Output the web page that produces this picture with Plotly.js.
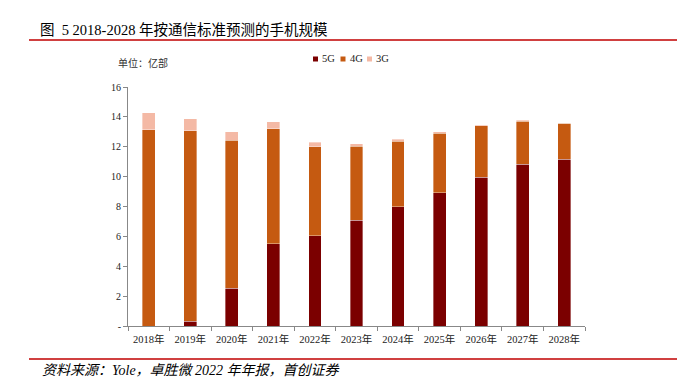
<!DOCTYPE html>
<html>
<head>
<meta charset="utf-8">
<script src="https://cdn.plot.ly/plotly-3.0.1.min.js"></script>
<style>html,body{margin:0;padding:0;background:#fff;}#chart{width:677px;height:385px;}</style>
</head>
<body>
<div id="chart"></div>
<script>
const years = ['2018年','2019年','2020年','2021年','2022年','2023年','2024年','2025年','2026年','2027年','2028年'];
const seriesNames = ['5G', '4G', '3G'];
const g5 = [0, 0.33, 2.52, 5.5, 6.04, 7.07, 7.97, 8.92, 9.97, 10.82, 11.16];
const g4 = [13.15, 12.75, 9.91, 7.71, 5.95, 4.96, 4.40, 4.00, 3.45, 2.90, 2.41];
const g3 = [1.11, 0.78, 0.56, 0.45, 0.31, 0.18, 0.13, 0.09, 0.06, 0.05, 0.02];
const yTickVals = [0, 2, 4, 6, 8, 10, 12, 14, 16];
const yTickText = ['-', '2', '4', '6', '8', '10', '12', '14', '16'];

const colors = ['#7B0000', '#C55A11', '#F4B9A5'];
const serif = 'Liberation Serif, Noto Sans CJK SC, serif';
const edge = {color: 'rgba(255,255,255,0.6)', width: 0.6};
const values = [g5, g4, g3];
const traces = seriesNames.map((n, i) => ({
  type: 'bar', name: n, x: years, y: values[i], marker: {color: colors[i], line: edge}, showlegend: false
}));

// compact legend built from the series names
const legX = [313, 340.5, 367];
const legY = 59;
const shapes = [
  {type: 'line', xref: 'paper', yref: 'paper', x0: 29/677, x1: 1, y0: 1-40/385, y1: 1-40/385,
   line: {color: '#C00000', width: 1.5}},
  {type: 'line', xref: 'paper', yref: 'paper', x0: 29/677, x1: 1, y0: 1-359/385, y1: 1-359/385,
   line: {color: '#C00000', width: 1.5}}
];
const annotations = [
  {xref: 'paper', yref: 'paper', x: 38/677, y: 1-30/385, xanchor: 'left', yanchor: 'middle', showarrow: false,
   text: '图  5 2018-2028 年按通信标准预测的手机规模', font: {family: serif, size: 14.5, color: '#000'}},
  {xref: 'paper', yref: 'paper', x: 116/677, y: 1-63/385, xanchor: 'left', yanchor: 'middle', showarrow: false,
   text: '单位：亿部', font: {family: serif, size: 10, color: '#333'}},
  {xref: 'paper', yref: 'paper', x: 40/677, y: 1-370/385, xanchor: 'left', yanchor: 'middle', showarrow: false,
   text: '<i>资料来源：Yole，卓胜微 2022 年年报，首创证券</i>', font: {family: serif, size: 14, color: '#000'}}
];
seriesNames.forEach((n, i) => {
  shapes.push({type: 'rect', xref: 'paper', yref: 'paper', x0: legX[i]/677, x1: (legX[i]+5)/677,
               y0: 1-(legY+2.5)/385, y1: 1-(legY-2.5)/385, fillcolor: colors[i], line: {width: 0}});
  annotations.push({xref: 'paper', yref: 'paper', x: (legX[i]+7)/677, y: 1-legY/385, xanchor: 'left', yanchor: 'middle',
                    showarrow: false, text: n, font: {family: serif, size: 10.5, color: '#222'}});
});

const layout = {
  width: 677, height: 385,
  margin: {l: 0, r: 0, t: 0, b: 0},
  paper_bgcolor: '#fff', plot_bgcolor: '#fff',
  barmode: 'stack', bargap: 0.69,
  showlegend: false,
  font: {family: serif, color: '#222', size: 10},
  xaxis: {domain: [128/677, 585/677], type: 'category', showline: true, linecolor: '#888', linewidth: 1,
          ticks: 'outside', tickson: 'boundaries', ticklen: 4, tickcolor: '#888', ticklabelstandoff: 3,
          showgrid: false, zeroline: false, tickfont: {family: serif, size: 10.5, color: '#222'}},
  yaxis: {domain: [59/385, 298/385], range: [0, 16], showline: true, linecolor: '#888', linewidth: 1,
          ticks: 'outside', ticklen: 4, tickcolor: '#888', tickvals: yTickVals, ticktext: yTickText,
          showgrid: false, zeroline: false, tickfont: {family: serif, size: 10, color: '#222'}},
  shapes: shapes,
  annotations: annotations
};

Plotly.newPlot('chart', traces, layout, {displayModeBar: false, staticPlot: true});
</script>
</body>
</html>
